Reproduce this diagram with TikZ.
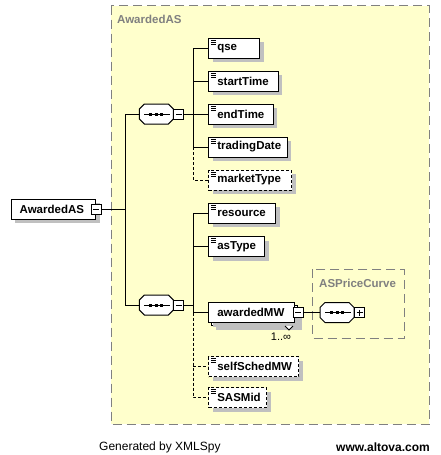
\documentclass[tikz,border=0pt]{standalone}
\usepackage{fontspec}
\setmainfont{Liberation Sans}
\usetikzlibrary{positioning,shadows,calc}
\definecolor{groupfill}{RGB}{255,255,204}
\definecolor{groupline}{RGB}{128,128,128}
\definecolor{shadowgray}{RGB}{192,192,192}
\hyphenpenalty=10000
% outline of a sequence compositor (octagon) round a node
\newcommand{\seqoutline}[1]{($(#1.north west)+(5,0)$) -- ($(#1.north east)+(-5,0)$)
  -- ($(#1.north east)+(0,5)$) -- ($(#1.south east)+(0,-5)$)
  -- ($(#1.south east)+(-5,0)$) -- ($(#1.south west)+(5,0)$)
  -- ($(#1.south west)+(0,-5)$) -- ($(#1.north west)+(0,5)$) -- cycle}
\tikzset{
  every shadow/.style={shadow xshift=4pt, shadow yshift=-4pt, fill=shadowgray, opacity=1},
  elem/.style={draw, fill=white, line width=1pt, minimum height=20pt, inner xsep=8.5pt,
    inner ysep=0pt, align=left, text width=#1, anchor=west,
    font=\fontsize{11.5}{13}\selectfont\bfseries, drop shadow},
  simple/.style={path picture={
      \foreach \k in {2,4,6}
        \draw[solid, line width=1pt] ($(path picture bounding box.north west)+(2,\k)$) -- ++(5,0);}},
  optional/.style={dash pattern=on 3pt off 2pt},
  seq/.style={rectangle, minimum width=34pt, minimum height=20pt,
    inner sep=0pt, outer sep=0pt, anchor=west},
  toggle/.style={draw, fill=white, line width=1pt, minimum size=10pt, inner sep=0pt},
  minus/.style={toggle, path picture={
      \draw[line width=1pt] ($(path picture bounding box.west)+(2,0)$) -- ($(path picture bounding box.east)+(-2,0)$);}},
  plus/.style={toggle, path picture={
      \draw[line width=1pt] ($(path picture bounding box.west)+(2,0)$) -- ($(path picture bounding box.east)+(-2,0)$);
      \draw[line width=1pt] ($(path picture bounding box.north)+(0,2)$) -- ($(path picture bounding box.south)+(0,-2)$);}},
  groupbox/.style={draw=groupline, line width=1pt, dash pattern=on 9pt off 5pt},
  grouplabel/.style={text=groupline, inner sep=0pt, anchor=west, font=\fontsize{11.5}{13}\selectfont\bfseries},
  link/.style={line width=1pt},
}
\begin{document}
\begin{tikzpicture}[x=1pt,y=-1pt]
\useasboundingbox (0,0) rectangle (440,455);

% complex type AwardedAS
\draw[groupbox, fill=groupfill] (111,5.5) rectangle (429,424);
\node[grouplabel] (typelabel) at (117,19) {AwardedAS};

% root element
\node[elem=67.3pt] (root) at (10.7,209.3) {AwardedAS};
\node[minus] (rootmin) at (root.east) {};

% sequences
\node[seq] (seqA) at (139.3,114) {};
\node[seq] (seqB) at (139.3,305) {};

% children of first sequence
\node[elem=34pt, simple] (qse) at (208.3,48.3) {qse};
\node[elem=52.4pt, simple] (startTime) at (208.3,81.3) {startTime};
\node[elem=47.4pt, simple] (endTime) at (208.3,114) {endTime};
\node[elem=61.4pt, simple] (tradingDate) at (208.3,147) {tradingDate};
\node[elem=65.7pt, simple, optional] (marketType) at (208.3,180) {marketType};

% children of second sequence
\node[elem=49.7pt, simple] (resource) at (208.3,213.3) {resource};
\node[elem=38.7pt, simple] (asType) at (208.3,246.7) {asType};
\node[elem=68.7pt, minimum width=85.7pt] (mwback) at (211.3,315.5) {};
\node[elem=68.7pt] (awardedMW) at (208.3,312.5) {awardedMW};
\node[minus] (minMW) at (mwback.east |- awardedMW.east) {};
\draw[link, fill=white] ($(mwback.south east)+(-13,0)$) -- ++(4,4) -- ++(4,-4);
\node[inner sep=0pt, font=\fontsize{11}{13}\selectfont] (mwocc) at (281,337) {1..∞};
\node[elem=73pt, simple, optional] (selfSchedMW) at (208.3,366.7) {selfSchedMW};
\node[elem=40.7pt, simple, optional] (SASMid) at (208.3,397.5) {SASMid};

% complex type ASPriceCurve
\draw[groupbox] (312.7,269.3) rectangle (404,338.3);
\node[grouplabel] (curvelabel) at (319,283.5) {ASPriceCurve};
\node[seq] (seqC) at (320,312.5) {};

% compositor shapes and marks
\foreach \s in {seqA,seqB,seqC} {
  \begin{scope}[shift={(4,4)}]
    \fill[shadowgray] \seqoutline{\s};
  \end{scope}
  \draw[link, fill=white] \seqoutline{\s};
  \draw[link] ($(\s.west)+(5,0)$) -- ($(\s.east)+(-3,0)$);
  \foreach \d in {-5.5,0,5.5}
    \fill ($(\s.center)+(\d-1.5,-1.5)$) rectangle ++(3,3);
}
\node[minus, anchor=west] (minA) at (seqA.east) {};
\node[minus, anchor=west] (minB) at (seqB.east) {};
\node[plus, anchor=west] (plusC) at (seqC.east) {};

% connectors
\coordinate (spine) at (125,0);
\coordinate (busA) at (193.3,0);
\coordinate (busB) at (193.3,0);
\draw[link] (rootmin.east) -- (spine |- rootmin.east);
\draw[link] (seqA.west) -| (spine |- seqB.west) -- (seqB.west);
\draw[link] (minA.east) -- (busA |- minA.east);
\draw[link] (busA |- qse.west) -- (busA |- tradingDate.west);
\foreach \n in {qse,startTime,endTime,tradingDate}
  \draw[link] (busA |- \n.west) -- (\n.west);
\draw[link, optional] (busA |- tradingDate.west) -- (busA |- marketType.west) -- (marketType.west);
\draw[link] (minB.east) -- (busB |- minB.east);
\draw[link] (busB |- resource.west) -- (busB |- awardedMW.west);
\foreach \n in {resource,asType,awardedMW}
  \draw[link] (busB |- \n.west) -- (\n.west);
\draw[link, optional] (busB |- awardedMW.west) -- (busB |- SASMid.west) -- (SASMid.west);
\draw[link, optional] (busB |- selfSchedMW.west) -- (selfSchedMW.west);
\draw[link] (minMW.east) -- (seqC.west);

% footer
\node[inner sep=0pt, anchor=west, font=\fontsize{12}{14}\selectfont] (gen) at (99,447) {Generated by XMLSpy};
\node[inner sep=0pt, anchor=east, font=\fontsize{12}{14}\selectfont\bfseries] (site) at (430,447) {www.altova.com};
\end{tikzpicture}
\end{document}
